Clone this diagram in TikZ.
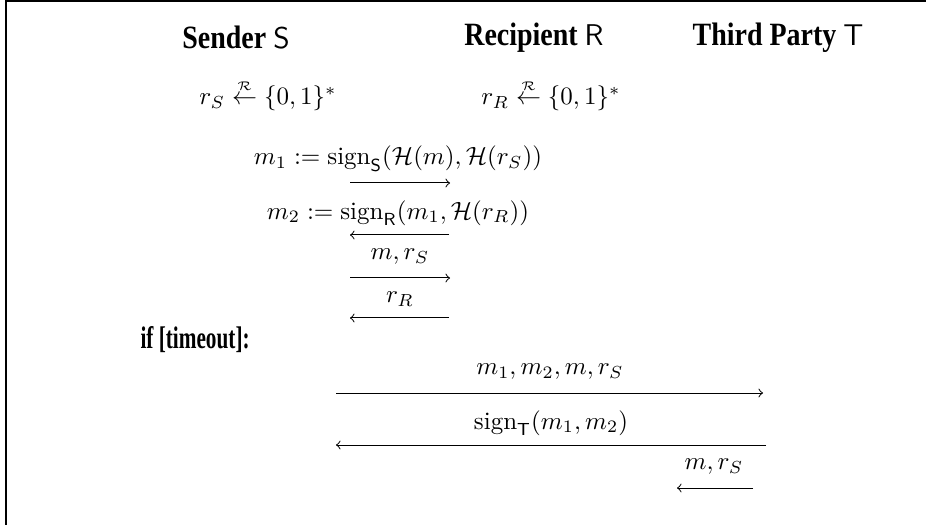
\documentclass[tikz,border=0pt]{standalone}
\usepackage{amsmath}
\usepackage{fontspec}
\newfontfamily\hdrfont[FakeStretch=0.86]{Liberation Serif}
\newfontfamily\iffont[FakeStretch=0.68]{Liberation Serif}
\begin{document}
\begin{tikzpicture}[x=0.4pt,y=-0.4pt,
  txt/.style={inner sep=0pt, anchor=center},
  hdr/.style={inner sep=0pt, anchor=center, font=\hdrfont\fontsize{13}{15}\selectfont\bfseries},
  cond/.style={inner sep=0pt, anchor=west, font=\iffont\fontsize{12.5}{15}\selectfont\bfseries},
  msg/.style={->, line width=0.4pt}]
\useasboundingbox (0,0) rectangle (926,525);
\draw[line width=1pt] (6,525) -- (6,1) -- (926,1);
% headers
\node[hdr] (hS) at (236,38) {Sender {\mdseries\sffamily\fontsize{12}{14}\selectfont S}};
\node[hdr] (hR) at (534,38) {Recipient {\mdseries\sffamily\fontsize{12}{14}\selectfont R}};
\node[hdr] (hT) at (778,38) {Third Party {\mdseries\sffamily\fontsize{12}{14}\selectfont T}};
% randomness
\node[txt] (rS) at (268,95) {$r_S \stackrel{\scriptscriptstyle\mathcal{R}}{\leftarrow} \{0,1\}^*$};
\node[txt] (rR) at (551,95) {$r_R \stackrel{\scriptscriptstyle\mathcal{R}}{\leftarrow} \{0,1\}^*$};
% messages
\node[txt] (m1) at (398,159) {$m_1 := \mathrm{sign}_{\mathsf{S}}(\mathcal{H}(m),\mathcal{H}(r_S))$};
\coordinate (a1s) at (350,183); \coordinate (a1e) at (450,183);
\draw[msg] (a1s) -- (a1e);
\node[txt] (m2) at (398,213) {$m_2 := \mathrm{sign}_{\mathsf{R}}(m_1,\mathcal{H}(r_R))$};
\coordinate (a2s) at (449,235); \coordinate (a2e) at (350,235);
\draw[msg] (a2s) -- (a2e);
\node[txt] (l3) at (400,257) {$m, r_S$};
\coordinate (a3s) at (350,278); \coordinate (a3e) at (450,278);
\draw[msg] (a3s) -- (a3e);
\node[txt] (l4) at (400,299) {$r_R$};
\coordinate (a4s) at (449,318); \coordinate (a4e) at (350,318);
\draw[msg] (a4s) -- (a4e);
% timeout
\node[cond] (to) at (140,340) {if [timeout]:};
\node[txt] (l5) at (550,372) {$m_1, m_2, m, r_S$};
\coordinate (a5s) at (336,393); \coordinate (a5e) at (763,393);
\draw[msg] (a5s) -- (a5e);
\node[txt] (l6) at (551,423) {$\mathrm{sign}_{\mathsf{T}}(m_1,m_2)$};
\coordinate (a6s) at (766,445); \coordinate (a6e) at (336,445);
\draw[msg] (a6s) -- (a6e);
\node[txt] (l7) at (714,467) {$m, r_S$};
\coordinate (a7s) at (753,488); \coordinate (a7e) at (677,488);
\draw[msg] (a7s) -- (a7e);
\end{tikzpicture}
\end{document}
